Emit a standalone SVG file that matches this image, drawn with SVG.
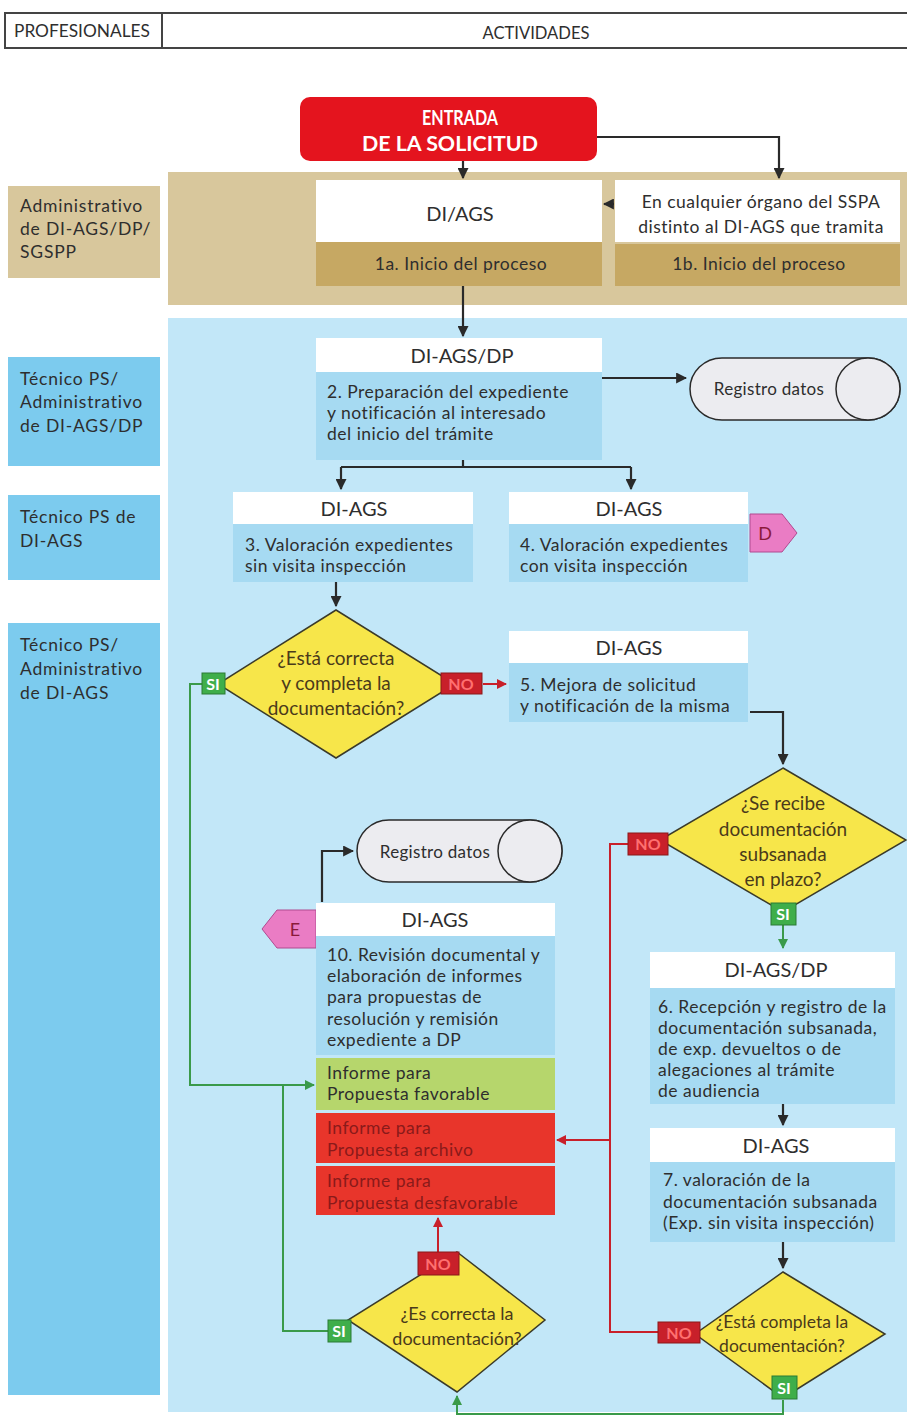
<svg xmlns="http://www.w3.org/2000/svg" width="907" height="1421" viewBox="0 0 907 1421">
<defs>
<marker id="ab" viewBox="0 0 10 10" refX="9" refY="5" markerWidth="5" markerHeight="5" orient="auto-start-reverse" markerUnits="strokeWidth"><path d="M0,0 L10,5 L0,10 z" fill="#2a2a2a"/></marker>
<marker id="ar" viewBox="0 0 10 10" refX="9" refY="5" markerWidth="5" markerHeight="5" orient="auto-start-reverse" markerUnits="strokeWidth"><path d="M0,0 L10,5 L0,10 z" fill="#c8202a"/></marker>
<marker id="ag" viewBox="0 0 10 10" refX="9" refY="5" markerWidth="5" markerHeight="5" orient="auto-start-reverse" markerUnits="strokeWidth"><path d="M0,0 L10,5 L0,10 z" fill="#3a9a4a"/></marker>
</defs>
<style>
text{font-family:Lato,"Open Sans","Liberation Sans",sans-serif;font-size:17.5px;fill:#2e2e2e;letter-spacing:0.5px}
.c{text-anchor:middle}
.h{font-size:20px;letter-spacing:0}
.lt{letter-spacing:0.8px}
.hd{fill:#ffffff}
.bd{fill:#a6daf2}
.lbl{fill:#7ccbee}
.tan{fill:#d8c79c}
.tdk{fill:#c6a863}
.dia{fill:#f7e64a;stroke:#3a3a2a;stroke-width:1.5}
.dt{fill:#4a3a1a;font-size:19px;letter-spacing:0}
.ln{fill:none;stroke:#2a2a2a;stroke-width:2.2}
.lr{fill:none;stroke:#c8202a;stroke-width:2}
.lg{fill:none;stroke:#3a9a4a;stroke-width:2}
.no{fill:#c8202a;stroke:#8a1818;stroke-width:1}
.si{fill:#3fae4a;stroke:#2a7a34;stroke-width:1}
.tw{fill:#ffffff;font-weight:bold;font-size:16px;letter-spacing:0}
.nt{fill:#ff7070;font-weight:bold;font-size:16px;letter-spacing:0}
.cyl{fill:#ececf0;stroke:#2a2a2a;stroke-width:1.5}
.pk{fill:#ea7cc4;stroke:#b04a90;stroke-width:1}
.rd{fill:#e8352b}
.rt{fill:#8a1a1a}
</style>
<rect width="907" height="1421" fill="#ffffff"/>

<g id="header">
<rect x="5" y="13" width="157" height="35" fill="#fff" stroke="#444" stroke-width="2"/>
<rect x="162" y="13" width="750" height="35" fill="#fff" stroke="#444" stroke-width="2"/>
<text x="82" y="37" class="c" style="font-size:17px;letter-spacing:0" textLength="136" lengthAdjust="spacingAndGlyphs">PROFESIONALES</text>
<text x="536" y="39" class="c" style="font-size:17px;letter-spacing:0" textLength="107" lengthAdjust="spacingAndGlyphs">ACTIVIDADES</text>
</g>

<g id="bands">
<rect x="168" y="172" width="739" height="133" class="tan"/>
<rect x="168" y="318" width="739" height="1094" fill="#c2e7f8"/>
</g>

<g id="lanes">
<rect x="8" y="186" width="152" height="92" class="tan"/>
<text x="20" y="212" class="lt">Administrativo</text><text x="20" y="235" class="lt">de DI-AGS/DP/</text><text x="20" y="258" class="lt">SGSPP</text>
<rect x="8" y="357" width="152" height="109" class="lbl"/>
<text x="20" y="385" class="lt">Técnico PS/</text><text x="20" y="408" class="lt">Administrativo</text><text x="20" y="432" class="lt">de DI-AGS/DP</text>
<rect x="8" y="495" width="152" height="85" class="lbl"/>
<text x="20" y="523" class="lt">Técnico PS de</text><text x="20" y="547" class="lt">DI-AGS</text>
<rect x="8" y="623" width="152" height="772" class="lbl"/>
<text x="20" y="651" class="lt">Técnico PS/</text><text x="20" y="675" class="lt">Administrativo</text><text x="20" y="699" class="lt">de DI-AGS</text>
</g>

<g id="connectors">
<path class="ln" d="M463,161 V178" marker-end="url(#ab)"/>
<path class="ln" d="M597,137 H779 V178" marker-end="url(#ab)"/>
<path class="ln" d="M614,204 H604" marker-end="url(#ab)"/>
<path class="ln" d="M463,286 V336" marker-end="url(#ab)"/>
<path class="ln" d="M600,378 H686" marker-end="url(#ab)"/>
<path class="ln" d="M463,460 V467 M341,467 H631"/>
<path class="ln" d="M341,467 V489" marker-end="url(#ab)"/>
<path class="ln" d="M631,467 V489" marker-end="url(#ab)"/>
<path class="ln" d="M336,582 V606" marker-end="url(#ab)"/>
<path class="lr" d="M483,684 H506" marker-end="url(#ar)"/>
<path class="ln" d="M750,712 H783 V764" marker-end="url(#ab)"/>
<path class="lg" d="M202,684 H190 V1085 H314" marker-end="url(#ag)"/>
<path class="lg" d="M783,925 V948" marker-end="url(#ag)"/>
<path class="lr" d="M628,844 H610 V1332 H658"/>
<path class="lr" d="M610,1140 H557" marker-end="url(#ar)"/>
<path class="ln" d="M783,1104 V1125" marker-end="url(#ab)"/>
<path class="ln" d="M783,1242 V1268" marker-end="url(#ab)"/>
<path class="lg" d="M783,1400 V1414 H457 V1396" marker-end="url(#ag)"/>
<path class="lr" d="M438,1252 V1218" marker-end="url(#ar)"/>
<path class="lg" d="M328,1331 H283 V1085"/>
<path class="ln" d="M322,902 V851 H353" marker-end="url(#ab)"/>
</g>

<g id="entrada">
<rect x="300" y="97" width="297" height="64" rx="10" fill="#e4141e"/>
<text x="460" y="125" class="c" style="fill:#fff;font-weight:bold;font-size:21px;letter-spacing:0" textLength="76" lengthAdjust="spacingAndGlyphs">ENTRADA</text>
<text x="450" y="151" class="c" style="fill:#fff;font-weight:bold;font-size:21px;letter-spacing:0" textLength="176" lengthAdjust="spacingAndGlyphs">DE LA SOLICITUD</text>
</g>

<g id="n1a">
<rect x="316" y="180" width="286" height="62" class="hd"/>
<rect x="316" y="242" width="286" height="44" class="tdk"/>
<text x="460" y="221" class="c h">DI/AGS</text>
<text x="461" y="270" class="c">1a. Inicio del proceso</text>
</g>

<g id="n1b">
<rect x="615" y="180" width="285" height="62" class="hd"/>
<rect x="615" y="244" width="285" height="42" class="tdk"/>
<text x="761" y="208" class="c">En cualquier órgano del SSPA</text>
<text x="761" y="233" class="c">distinto al DI-AGS que tramita</text>
<text x="759" y="270" class="c">1b. Inicio del proceso</text>
</g>

<g id="n2">
<rect x="316" y="338" width="286" height="34" class="hd"/>
<rect x="316" y="372" width="286" height="88" class="bd"/>
<text x="462" y="363" class="c h">DI-AGS/DP</text>
<text x="327" y="398">2. Preparación del expediente</text>
<text x="327" y="419">y notificación al interesado</text>
<text x="327" y="440">del inicio del trámite</text>
</g>

<g id="reg1">
<path class="cyl" d="M722,358 H868 A32,31 0 0 1 868,420 H722 A32,31 0 0 1 722,358 z"/>
<ellipse cx="868" cy="389" rx="32" ry="31" class="cyl"/>
<text x="769" y="395" class="c" style="font-size:17px;letter-spacing:0.3px">Registro datos</text>
</g>

<g id="n3">
<rect x="233" y="492" width="240" height="32" class="hd"/>
<rect x="233" y="524" width="240" height="58" class="bd"/>
<text x="354" y="516" class="c h">DI-AGS</text>
<text x="245" y="551">3. Valoración expedientes</text>
<text x="245" y="572">sin visita inspección</text>
</g>

<g id="n4">
<rect x="509" y="492" width="239" height="32" class="hd"/>
<rect x="509" y="524" width="239" height="58" class="bd"/>
<text x="629" y="516" class="c h">DI-AGS</text>
<text x="520" y="551">4. Valoración expedientes</text>
<text x="520" y="572">con visita inspección</text>
</g>

<g id="D">
<path class="pk" d="M750,514 H782 L797,533 L782,552 H750 z"/>
<text x="765" y="540" class="c" style="font-size:18px;fill:#8a1a3a;letter-spacing:0">D</text>
</g>

<g id="q1">
<path class="dia" d="M336,610 L455,684 L336,758 L218,684 z"/>
<text x="336" y="665" class="c dt">¿Está correcta</text>
<text x="336" y="690" class="c dt">y completa la</text>
<text x="336" y="715" class="c dt">documentación?</text>
<rect x="202" y="673" width="23" height="21" class="si"/>
<text x="213" y="690" class="c tw">SI</text>
<rect x="441" y="673" width="41" height="21" class="no"/>
<text x="461" y="690" class="c nt">NO</text>
</g>

<g id="n5">
<rect x="509" y="631" width="239" height="32" class="hd"/>
<rect x="509" y="663" width="239" height="59" class="bd"/>
<text x="629" y="655" class="c h">DI-AGS</text>
<text x="520" y="691">5. Mejora de solicitud</text>
<text x="520" y="712">y notificación de la misma</text>
</g>

<g id="q2">
<path class="dia" d="M783,768 L906,840 L783,912 L660,840 z"/>
<text x="783" y="810" class="c dt">¿Se recibe</text>
<text x="783" y="836" class="c dt">documentación</text>
<text x="783" y="861" class="c dt">subsanada</text>
<text x="783" y="886" class="c dt">en plazo?</text>
<rect x="628" y="833" width="40" height="22" class="no"/>
<text x="648" y="850" class="c nt">NO</text>
<rect x="771" y="903" width="25" height="22" class="si"/>
<text x="783" y="920" class="c tw">SI</text>
</g>

<g id="reg2">
<path class="cyl" d="M389,820 H530 A32,31 0 0 1 530,882 H389 A32,31 0 0 1 389,820 z"/>
<ellipse cx="530" cy="851" rx="32" ry="31" class="cyl"/>
<text x="435" y="858" class="c" style="font-size:17px;letter-spacing:0.3px">Registro datos</text>
</g>

<g id="E">
<path class="pk" d="M316,910 H277 L262,929 L277,948 H316 z"/>
<text x="295" y="936" class="c" style="font-size:18px;fill:#8a1a3a;letter-spacing:0">E</text>
</g>

<g id="n10">
<rect x="316" y="903" width="239" height="33" class="hd"/>
<rect x="316" y="936" width="239" height="119" class="bd"/>
<text x="435" y="927" class="c h">DI-AGS</text>
<text x="327" y="961">10. Revisión documental y</text>
<text x="327" y="982">elaboración de informes</text>
<text x="327" y="1003">para propuestas de</text>
<text x="327" y="1025">resolución y remisión</text>
<text x="327" y="1046">expediente a DP</text>
</g>

<g id="inf-fav">
<rect x="316" y="1058" width="239" height="52" fill="#b6d66c"/>
<text x="327" y="1079">Informe para</text>
<text x="327" y="1100">Propuesta favorable</text>
</g>
<g id="inf-arch">
<rect x="316" y="1113" width="239" height="50" class="rd"/>
<text x="327" y="1134" class="rt">Informe para</text>
<text x="327" y="1156" class="rt">Propuesta archivo</text>
</g>
<g id="inf-desf">
<rect x="316" y="1166" width="239" height="49" class="rd"/>
<text x="327" y="1187" class="rt">Informe para</text>
<text x="327" y="1209" class="rt">Propuesta desfavorable</text>
</g>

<g id="n6">
<rect x="650" y="952" width="245" height="36" class="hd"/>
<rect x="650" y="988" width="245" height="116" class="bd"/>
<text x="776" y="977" class="c h">DI-AGS/DP</text>
<text x="658" y="1013">6. Recepción y registro de la</text>
<text x="658" y="1034">documentación subsanada,</text>
<text x="658" y="1055">de exp. devueltos o de</text>
<text x="658" y="1076">alegaciones al trámite</text>
<text x="658" y="1097">de audiencia</text>
</g>

<g id="n7">
<rect x="650" y="1128" width="245" height="34" class="hd"/>
<rect x="650" y="1162" width="245" height="80" class="bd"/>
<text x="776" y="1153" class="c h">DI-AGS</text>
<text x="663" y="1186">7. valoración de la</text>
<text x="663" y="1208">documentación subsanada</text>
<text x="663" y="1229">(Exp. sin visita inspección)</text>
</g>

<g id="q3">
<path class="dia" d="M783,1272 L885,1334 L783,1398 L695,1334 z"/>
<text x="782" y="1328" class="c dt" style="font-size:17.5px">¿Está completa la</text>
<text x="782" y="1352" class="c dt" style="font-size:17.5px">documentación?</text>
<rect x="658" y="1322" width="42" height="21" class="no"/>
<text x="679" y="1339" class="c nt">NO</text>
<rect x="772" y="1376" width="25" height="23" class="si"/>
<text x="784" y="1394" class="c tw">SI</text>
</g>

<g id="q4">
<path class="dia" d="M457,1252 L545,1320 L457,1392 L348,1320 z"/>
<text x="457" y="1320" class="c dt" style="font-size:18px">¿Es correcta la</text>
<text x="457" y="1345" class="c dt" style="font-size:18px">documentación?</text>
<rect x="418" y="1252" width="41" height="23" class="no"/>
<text x="438" y="1270" class="c nt">NO</text>
<rect x="328" y="1320" width="23" height="22" class="si"/>
<text x="339" y="1337" class="c tw">SI</text>
</g>
</svg>
